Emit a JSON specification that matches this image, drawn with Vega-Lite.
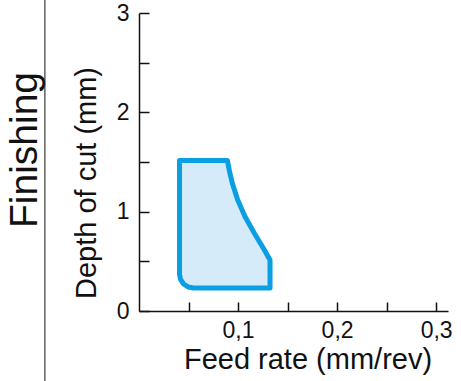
{
  "$schema": "https://vega.github.io/schema/vega-lite/v6.json",
  "width": 309,
  "height": 298,
  "autosize": {"type": "none"},
  "padding": {"left": 139, "top": 13, "right": 13, "bottom": 70},
  "background": "white",
  "config": {
    "view": {"stroke": null},
    "font": "Liberation Sans",
    "axis": {"grid": false}
  },
  "title": {
    "text": "Finishing",
    "orient": "left",
    "anchor": "middle",
    "fontSize": 39,
    "fontWeight": "normal",
    "font": "Liberation Sans",
    "color": "#111111",
    "offset": -1,
    "dx": 12
  },
  "datasets": {
    "region": [
      {"depth": 0.231, "feed_min": 0.0550, "feed_max": 0.1323},
      {"depth": 0.242, "feed_min": 0.0496, "feed_max": 0.1323},
      {"depth": 0.272, "feed_min": 0.0450, "feed_max": 0.1323},
      {"depth": 0.318, "feed_min": 0.0419, "feed_max": 0.1323},
      {"depth": 0.372, "feed_min": 0.0409, "feed_max": 0.1323},
      {"depth": 0.513, "feed_min": 0.0409, "feed_max": 0.1323},
      {"depth": 0.614, "feed_min": 0.0409, "feed_max": 0.1266},
      {"depth": 0.782, "feed_min": 0.0409, "feed_max": 0.1165},
      {"depth": 0.949, "feed_min": 0.0409, "feed_max": 0.1071},
      {"depth": 1.117, "feed_min": 0.0409, "feed_max": 0.0997},
      {"depth": 1.286, "feed_min": 0.0409, "feed_max": 0.0942},
      {"depth": 1.400, "feed_min": 0.0409, "feed_max": 0.0915},
      {"depth": 1.516, "feed_min": 0.0409, "feed_max": 0.0893}
    ],
    "divider": [
      {"feed": -0.095, "top": 3.14, "bottom": -0.72}
    ]
  },
  "layer": [
    {
      "data": {"name": "region"},
      "mark": {
        "type": "area",
        "orient": "horizontal",
        "fill": "#d5ebfa",
        "fillOpacity": 1,
        "stroke": "#0a9fe2",
        "strokeWidth": 5,
        "strokeJoin": "round",
        "interpolate": "linear"
      },
      "encoding": {
        "y": {
          "field": "depth",
          "type": "quantitative",
          "scale": {"domain": [0, 3], "nice": false, "zero": false},
          "axis": {
            "title": "Depth of cut (mm)",
            "titleFontSize": 29,
            "titleFontWeight": "normal",
            "titleColor": "#111111",
            "titlePadding": 15,
            "titleY": 169.5,
            "values": [0, 0.5, 1, 1.5, 2, 2.5, 3],
            "labelExpr": "datum.value % 1 == 0 ? format(datum.value, 'd') : ''",
            "labelFontSize": 23,
            "labelColor": "#111111",
            "labelPadding": 20,
            "domainColor": "#111111",
            "domainWidth": 1.5,
            "tickColor": "#111111",
            "tickWidth": 1.5,
            "tickSize": -10
          }
        },
        "x": {
          "field": "feed_min",
          "type": "quantitative",
          "scale": {"domain": [0, 0.312], "nice": false, "zero": false},
          "axis": {
            "title": "Feed rate (mm/rev)",
            "titleFontSize": 29,
            "titleFontWeight": "normal",
            "titleColor": "#111111",
            "titlePadding": 3,
            "titleX": 168.5,
            "values": [0.05, 0.1, 0.15, 0.2, 0.25, 0.3],
            "labelExpr": "round(datum.value * 100) % 10 == 0 ? replace(format(datum.value, '.1f'), '.', ',') : ''",
            "labelFontSize": 23,
            "labelColor": "#111111",
            "labelPadding": 17,
            "domainColor": "#111111",
            "domainWidth": 1.5,
            "tickColor": "#111111",
            "tickWidth": 1.5,
            "tickSize": -9
          }
        },
        "x2": {"field": "feed_max"}
      }
    },
    {
      "data": {"name": "divider"},
      "mark": {"type": "rule", "color": "#111111", "strokeWidth": 1, "clip": false},
      "encoding": {
        "x": {"field": "feed", "type": "quantitative"},
        "y": {"field": "top", "type": "quantitative"},
        "y2": {"field": "bottom"}
      }
    }
  ]
}
